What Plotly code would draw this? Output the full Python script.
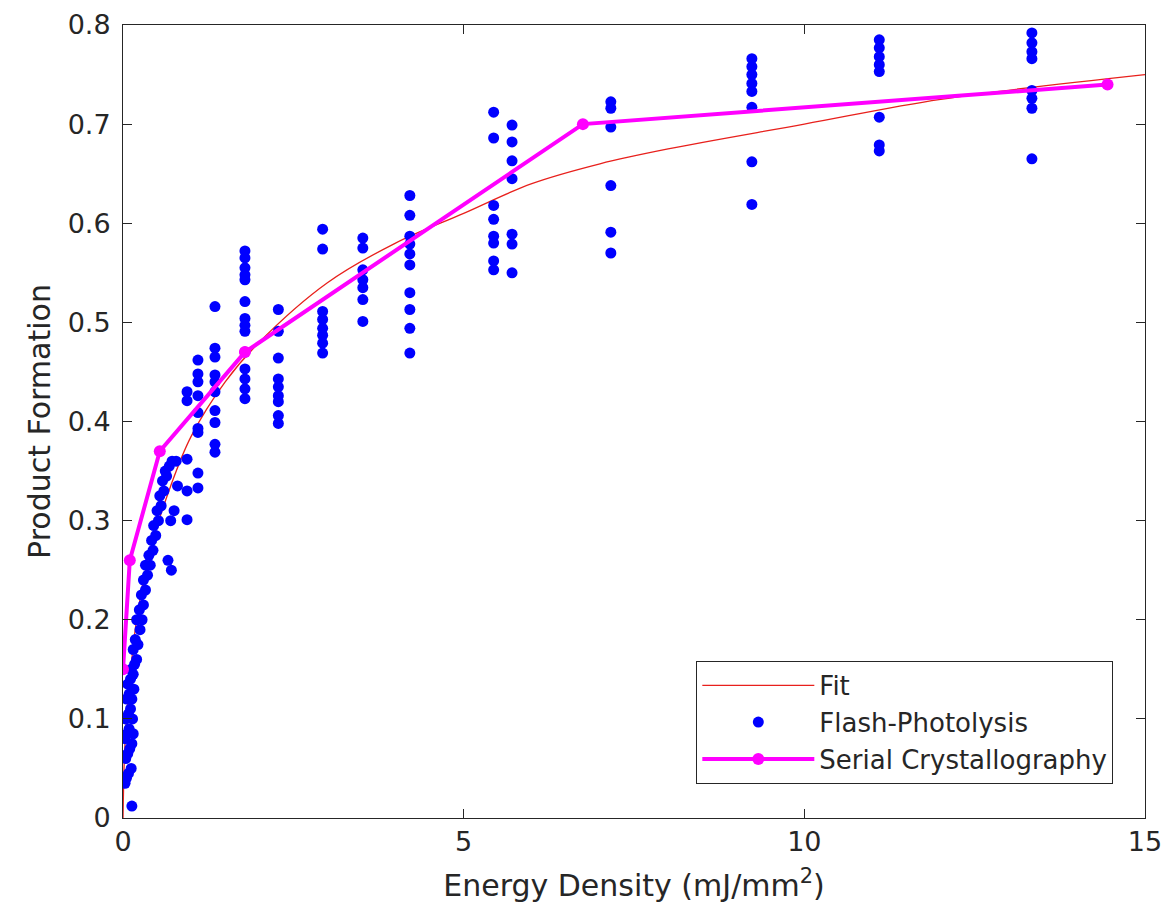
import plotly.graph_objects as go

# Fit curve
fit_x = [0, 0.02, 0.05, 0.1, 0.2, 0.4, 0.7, 1, 1.5, 2, 3, 4, 5, 6, 7, 8, 10, 12, 15]
fit_y = [0, 0.06, 0.10, 0.14, 0.20, 0.27, 0.335, 0.385, 0.44, 0.48, 0.54, 0.58, 0.61, 0.64, 0.66, 0.675, 0.70, 0.725, 0.75]

# Flash-Photolysis: low-energy cluster
low_x = [0.03, 0.05, 0.08, 0.04, 0.07, 0.10, 0.12, 0.03, 0.06, 0.09, 0.13, 0.15, 0.04, 0.08, 0.11, 0.14,
         0.05, 0.09, 0.13, 0.16, 0.07, 0.11, 0.15, 0.13,
         0.12, 0.17, 0.20, 0.15, 0.22, 0.18, 0.25, 0.20, 0.28, 0.24, 0.30, 0.27, 0.33, 0.30, 0.36, 0.33,
         0.40, 0.38, 0.44, 0.66, 0.71,
         0.42, 0.48, 0.45, 0.52, 0.50, 0.56, 0.54, 0.60, 0.58, 0.64, 0.62, 0.68, 0.72, 0.78, 0.70, 0.75, 0.80]
low_y = [0.035, 0.04, 0.045, 0.06, 0.065, 0.07, 0.05, 0.08, 0.085, 0.09, 0.075, 0.085, 0.10, 0.105, 0.11, 0.10,
         0.12, 0.125, 0.12, 0.13, 0.135, 0.14, 0.145, 0.012,
         0.15, 0.155, 0.16, 0.17, 0.175, 0.18, 0.19, 0.20, 0.20, 0.21, 0.215, 0.225, 0.23, 0.24, 0.245, 0.255,
         0.255, 0.265, 0.27, 0.26, 0.25,
         0.28, 0.285, 0.295, 0.30, 0.31, 0.315, 0.325, 0.33, 0.34, 0.345, 0.35, 0.355, 0.36, 0.36, 0.30, 0.31, 0.335]

# Flash-Photolysis: discrete energy columns
col_energy = [0.94, 1.10, 1.35, 1.79, 2.28, 2.93, 3.52, 4.21, 5.44, 5.71, 7.16, 9.23, 11.10, 13.34]
col_values = [
    [0.430, 0.421, 0.362, 0.330, 0.301],
    [0.462, 0.448, 0.440, 0.426, 0.409, 0.393, 0.389, 0.348, 0.333],
    [0.516, 0.474, 0.465, 0.447, 0.440, 0.430, 0.411, 0.399, 0.377, 0.369],
    [0.572, 0.565, 0.555, 0.548, 0.543, 0.521, 0.504, 0.497, 0.491, 0.470, 0.453, 0.443, 0.433, 0.423],
    [0.513, 0.491, 0.464, 0.443, 0.435, 0.426, 0.420, 0.406, 0.398],
    [0.594, 0.574, 0.511, 0.503, 0.494, 0.487, 0.479, 0.469],
    [0.585, 0.575, 0.553, 0.543, 0.535, 0.523, 0.501],
    [0.628, 0.608, 0.587, 0.579, 0.569, 0.558, 0.530, 0.513, 0.494, 0.469],
    [0.712, 0.686, 0.618, 0.604, 0.587, 0.580, 0.562, 0.553],
    [0.699, 0.682, 0.663, 0.645, 0.589, 0.579, 0.550],
    [0.7225, 0.716, 0.697, 0.638, 0.591, 0.570],
    [0.766, 0.758, 0.750, 0.741, 0.733, 0.717, 0.662, 0.619],
    [0.785, 0.777, 0.768, 0.760, 0.753, 0.707, 0.679, 0.673],
    [0.792, 0.782, 0.773, 0.766, 0.734, 0.726, 0.716, 0.665],
]

# Serial Crystallography
sc_x = [0, 0.10, 0.54, 1.79, 6.75, 14.45]
sc_y = [0.15, 0.26, 0.37, 0.47, 0.70, 0.74]

# Axis ticks
x_ticks = [0, 5, 10, 15]
y_ticks = [0, 0.1, 0.2, 0.3, 0.4, 0.5, 0.6, 0.7, 0.8]
y_tick_labels = ["0", "0.1", "0.2", "0.3", "0.4", "0.5", "0.6", "0.7", "0.8"]

flash_x = list(low_x)
flash_y = list(low_y)
for e, vals in zip(col_energy, col_values):
    flash_x += [e] * len(vals)
    flash_y += vals

fig = go.Figure()
fig.add_trace(go.Scatter(x=fit_x, y=fit_y, mode="lines", name="Fit",
                         line=dict(color="#e8201c", width=1.3, shape="spline")))
fig.add_trace(go.Scatter(x=flash_x, y=flash_y, mode="markers", name="Flash-Photolysis",
                         marker=dict(color="#0000ff", size=11, line=dict(width=0))))
fig.add_trace(go.Scatter(x=sc_x, y=sc_y, mode="lines+markers", name="Serial Crystallography",
                         line=dict(color="#ff00ff", width=4),
                         marker=dict(color="#ff00ff", size=12)))

axis_common = dict(showline=True, linecolor="#262626", linewidth=1, mirror="ticks",
                   ticks="inside", ticklen=9, tickcolor="#262626", showgrid=False, zeroline=False,
                   ticklabeloverflow="allow",
                   tickfont=dict(family="DejaVu Sans", size=27, color="#262626"))

fig.update_layout(
    width=1161, height=910,
    margin=dict(l=115, r=24, t=17, b=100),
    paper_bgcolor="white", plot_bgcolor="white",
    font=dict(family="DejaVu Sans", color="#262626"),
    xaxis=dict(range=[0, 15], tickvals=x_ticks, automargin=False,
               title=dict(text="Energy Density (mJ/mm<sup>2</sup>)", font=dict(size=30), standoff=18),
               **axis_common),
    yaxis=dict(range=[0, 0.8], tickvals=y_ticks, ticktext=y_tick_labels, automargin=False,
               ticklabelstandoff=6,
               title=dict(text="Product Formation", font=dict(size=30), standoff=8),
               **axis_common),
    legend=dict(x=0.969, y=0.043, xanchor="right", yanchor="bottom",
                bordercolor="#262626", borderwidth=1, bgcolor="white",
                font=dict(size=26, color="#262626"), itemwidth=112,
                tracegroupgap=0),
    showlegend=True,
)

fig.write_html("out.html")
